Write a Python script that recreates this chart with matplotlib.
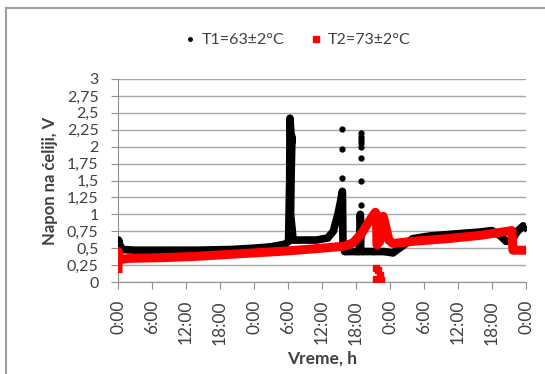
import numpy as np
import matplotlib
matplotlib.use('Agg')
import matplotlib.pyplot as plt
from matplotlib.lines import Line2D

plt.rcParams['font.family'] = ['Lato', 'DejaVu Sans']

# vrijeme u satima od pocetka mjerenja
t1_h = [0.0, 0.1, 0.3, 0.8, 3, 8, 14, 20, 24, 27, 29.5, 30.1, 30.3, 30.35,
        30.5, 30.6, 30.7, 30.55, 30.45, 30.7, 30.9, 32, 35, 37, 38, 38.8, 39.3,
        39.6, 39.7, 40, 42, 42.6, 42.75, 42.9, 42.8, 43.0, 45, 47, 48.5, 50,
        52, 55, 58, 61, 64, 66, 67.5, 68.5, 69.5, 70.5, 71.5, 72]
t1_v = [0.50, 0.62, 0.55, 0.48, 0.47, 0.47, 0.47, 0.48, 0.50, 0.52, 0.56, 0.60,
        1.5, 2.42, 2.2, 2.05, 2.15, 1.6, 1.0, 0.8, 0.62, 0.62, 0.62, 0.65, 0.75,
        1.0, 1.2, 1.34, 0.6, 0.45, 0.45, 0.45, 1.0, 0.8, 0.5, 0.45, 0.45, 0.45,
        0.43, 0.52, 0.64, 0.68, 0.70, 0.72, 0.74, 0.76, 0.68, 0.60, 0.62, 0.75,
        0.83, 0.8]

# pojedinacne tacke (T1)
t1_out_h = [39.6, 39.6, 39.6, 42.8, 42.8, 42.8, 42.8, 42.8, 42.8, 42.8, 42.8]
t1_out_v = [2.26, 1.96, 1.53, 2.2, 2.15, 2.1, 2.05, 2.0, 1.83, 1.49, 1.14]

t2_h = [0.0, 0.05, 0.3, 2, 8, 14, 20, 24, 30, 36, 40, 41.5, 43, 44.5, 45.4,
        45.6, 45.7, 46.2, 46.8, 47.3, 47.8, 48.5, 52, 58, 64, 69.5, 69.7, 71.5]
t2_v = [0.20, 0.45, 0.33, 0.35, 0.36, 0.38, 0.41, 0.43, 0.46, 0.50, 0.53, 0.58,
        0.72, 0.92, 1.03, 1.0, 0.55, 0.60, 0.97, 0.8, 0.62, 0.57, 0.60, 0.64,
        0.69, 0.76, 0.47, 0.47]

t2_out_h = [45.6, 45.9, 45.5, 45.8, 46.1, 46.4, 46.3]
t2_out_v = [0.2, 0.17, 0.05, 0.02, 0.05, 0.03, 0.1]

x_ticks = list(range(0, 73, 6))
x_labels = ['0:00', '6:00', '12:00', '18:00'] * 3 + ['0:00']
y_ticks = [0, 0.25, 0.5, 0.75, 1, 1.25, 1.5, 1.75, 2, 2.25, 2.5, 2.75, 3]
y_labels = ['0', '0,25', '0,5', '0,75', '1', '1,25', '1,5', '1,75', '2',
            '2,25', '2,5', '2,75', '3']

fig = plt.figure(figsize=(5.45, 3.74), dpi=100)
ax = fig.add_axes([118 / 545, 1 - 282 / 374, 408 / 545, 203 / 374])

ax.plot(t1_h, t1_v, color='black', lw=5.5, marker='o', ms=3, zorder=3)
ax.plot(t1_out_h, t1_out_v, 'o', color='black', ms=3.5, zorder=3)
ax.plot(t2_h, t2_v, color='red', lw=6.5, marker='s', ms=3, zorder=4)
ax.plot(t2_out_h, t2_out_v, 's', color='red', ms=4.5, zorder=4)

ax.set_xlim(0, 72)
ax.set_ylim(0, 3)
ax.set_xticks(x_ticks)
ax.set_xticklabels(x_labels, rotation=90, fontsize=12.5, color='#404040')
ax.set_yticks(y_ticks)
ax.set_yticklabels(y_labels, fontsize=11.5, color='#404040')
ax.tick_params(axis='x', length=5, pad=8, color='#909090')
ax.tick_params(axis='y', length=5, pad=9, color='#909090')
ax.grid(axis='y', color='#a6a6a6', lw=1)
ax.set_axisbelow(True)
for s in ['top', 'right']:
    ax.spines[s].set_visible(False)
for s in ['left', 'bottom']:
    ax.spines[s].set_color('#909090')

ax.set_xlabel('Vreme, h', fontsize=12.5, fontweight='bold', color='#404040', labelpad=4)
ax.set_ylabel('Napon na ćeliji, V', fontsize=12, fontweight='bold', color='#404040', labelpad=6)

handles = [Line2D([], [], color='black', marker='o', ls='none', ms=2.5),
           Line2D([], [], color='red', marker='s', ls='none', ms=4)]
fig.legend(handles, ['T1=63±2°C', 'T2=73±2°C'], loc='center', ncol=2,
           bbox_to_anchor=(0.545, 0.893), frameon=False, fontsize=11.5,
           handletextpad=0.3, columnspacing=1.6, handlelength=0.8)
for txt in fig.legends[0].get_texts():
    txt.set_color('#404040')

# okvir
fig.add_artist(Line2D([6 / 545, 6 / 545], [0, 1 - 8 / 374], color='#a0a0a0', lw=1.5))
fig.add_artist(Line2D([6 / 545, 1], [1 - 8 / 374, 1 - 8 / 374], color='#a0a0a0', lw=1.5))

fig.savefig('out.png', dpi=100)
